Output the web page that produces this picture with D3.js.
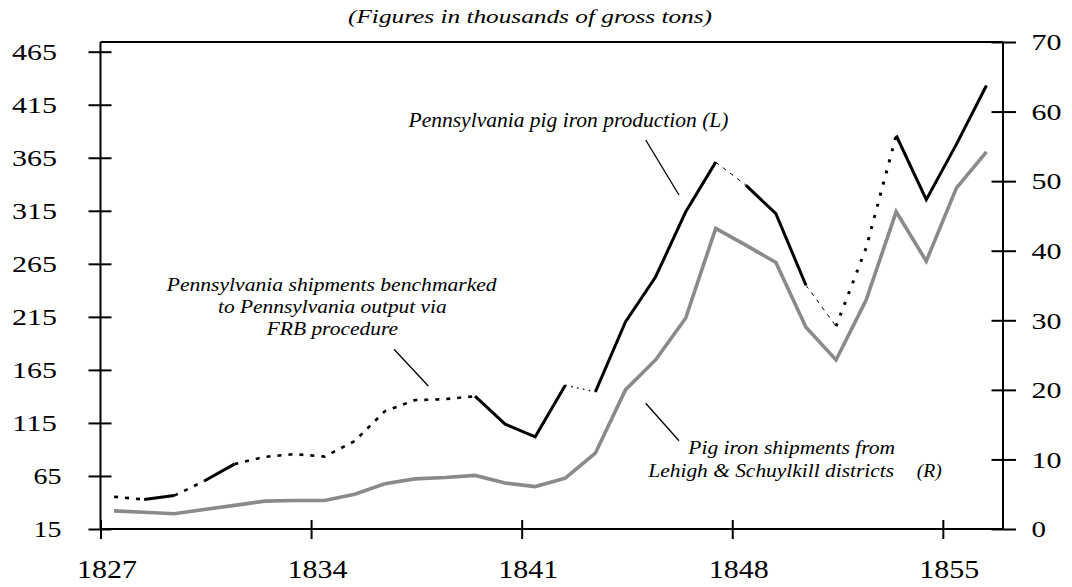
<!DOCTYPE html>
<html><head><meta charset="utf-8">
<script src="https://cdn.jsdelivr.net/npm/d3@7"></script>
<style>
html,body{margin:0;padding:0;background:#fff;}
svg{display:block;}
</style>
</head><body>
<svg id="chart" width="1072" height="587"></svg>
<script>
// ---- data ----
const years = [1827,1828,1829,1830,1831,1832,1833,1834,1835,1836,1837,1838,1839,1840,1841,
               1842,1843,1844,1845,1846,1847,1848,1849,1850,1851,1852,1853,1854,1855,1856];
// Pennsylvania pig iron production (L axis, thousands of gross tons)
const production = [45.4,42.8,46.5,60.2,76.2,83.0,85.6,83.3,97.9,126.0,136.5,137.4,140.2,113.9,101.9,
                    150.6,144.3,210.2,252.6,313.8,360.9,339.2,312.3,244.8,206.2,280.0,386.0,325.5,377.6,433.1];
// Pig iron shipments from Lehigh & Schuylkill districts (R axis)
const shipments = [2.6,2.4,2.2,2.8,3.4,4.0,4.1,4.1,5.0,6.5,7.2,7.4,7.7,6.6,6.1,
                   7.3,10.9,20.0,24.3,30.3,43.2,40.8,38.3,29.0,24.3,32.9,45.6,38.5,49.0,54.2];
// how each production interval (year -> next year) was obtained
const productionMethod = ["FRB","actual","FRB","actual","FRB","FRB","FRB","FRB","FRB","FRB","FRB","FRB",
                          "actual","actual","actual","linkDot","actual","actual","actual","actual",
                          "linkDash","actual","actual","linkDash","FRB2","FRB2","actual","actual","actual"];
const leftTicks = [15,65,115,165,215,265,315,365,415,465];
const rightTicks = [0,10,20,30,40,50,60,70];
const xTicks = [1827,1834,1841,1848,1855];

// ---- layout ----
const FONT = '"Liberation Serif","Times New Roman",serif';
const svg = d3.select("#chart");
const L = 100.5, R = 1003, T = 42, B = 529;
const x = d3.scaleLinear().domain([1827,1857]).range([L, R]);
const yL = d3.scaleLinear().domain([15,465]).range([B, 51.7]);
const yR = d3.scaleLinear().domain([0,70]).range([B, T]);
const xp = yr => x(yr + 0.45);

const styles = {
  actual:  {w:3,   dash:null},
  FRB:     {w:2.6, dash:"4,7"},
  FRB2:    {w:3,   dash:"3,8.5"},
  linkDot: {w:1.4, dash:"1.5,4.5"},
  linkDash:{w:1,   dash:"4,5"}
};

// frame
const frame = svg.append("g").attr("stroke","#000").attr("stroke-width",2);
frame.append("line").attr("x1",L).attr("x2",R).attr("y1",T).attr("y2",T);
frame.append("line").attr("x1",L).attr("x2",L).attr("y1",T).attr("y2",B);
frame.append("line").attr("x1",R).attr("x2",R).attr("y1",T).attr("y2",B);
frame.append("line").attr("x1",L).attr("x2",R).attr("y1",B).attr("y2",B);

// left axis
const gL = svg.append("g").attr("transform",`translate(${L},0)`)
  .call(d3.axisLeft(yL).tickValues(leftTicks).tickSizeOuter(0).tickFormat(d3.format("d")));
gL.select(".domain").remove();
gL.selectAll(".tick line").attr("x1",11).attr("x2",-12).attr("stroke","#000").attr("stroke-width",2);
gL.selectAll(".tick text")
  .style("font-family",FONT).style("font-size","23px")
  .attr("x", d => String(d).length===3 ? -43.5 : -39)
  .attr("dy","0.34em")
  .attr("textLength", d => String(d).length===3 ? 45 : 28)
  .attr("lengthAdjust","spacingAndGlyphs");

// right axis
const gR = svg.append("g").attr("transform",`translate(${R},0)`)
  .call(d3.axisRight(yR).tickValues(rightTicks).tickSizeOuter(0).tickFormat(d3.format("d")));
gR.select(".domain").remove();
gR.selectAll(".tick line").attr("x1",-11.5).attr("x2",13).attr("stroke","#000").attr("stroke-width",2);
gR.selectAll(".tick text")
  .style("font-family",FONT).style("font-size","23px")
  .attr("x",28.5).attr("dy","0.34em")
  .attr("textLength", d => String(d).length===2 ? 30 : 14.5)
  .attr("lengthAdjust","spacingAndGlyphs");

// bottom axis
const gB = svg.append("g").attr("transform",`translate(0,${B})`)
  .call(d3.axisBottom(x).tickValues(xTicks).tickSizeOuter(0).tickFormat(d3.format("d")));
gB.select(".domain").remove();
gB.selectAll(".tick line").attr("y1",-9).attr("y2",10).attr("stroke","#000").attr("stroke-width",2);
gB.selectAll(".tick text")
  .style("font-family",FONT).style("font-size","24.5px")
  .attr("y",48.5).attr("dy",0).attr("dx",6)
  .attr("textLength",60).attr("lengthAdjust","spacingAndGlyphs");

// shipments line
const lineR = d3.line().x((d,i)=>xp(years[i])).y(d=>yR(d));
svg.append("path").datum(shipments)
  .attr("d", lineR).attr("fill","none")
  .attr("stroke","#8a8a8a").attr("stroke-width",3.6).attr("stroke-linejoin","miter");

// production line in runs by method
const runs = [];
productionMethod.forEach((m,i)=>{
  const last = runs[runs.length-1];
  if (last && last.m===m) last.end = i+1; else runs.push({m, start:i, end:i+1});
});
const lineL = d3.line().x(d=>xp(d.yr)).y(d=>yL(d.v));
runs.forEach(r=>{
  const pts = d3.range(r.start, r.end+1).map(i=>({yr:years[i], v:production[i]}));
  const s = styles[r.m];
  svg.append("path").datum(pts).attr("d", lineL).attr("fill","none")
    .attr("stroke","#000").attr("stroke-width",s.w)
    .attr("stroke-dasharray", s.dash)
    .attr("stroke-linejoin","miter");
});

// texts
function itext(txt, xx, yy, len, size){
  return svg.append("text").attr("x",xx).attr("y",yy)
    .style("font-family",FONT).style("font-size",size+"px").style("font-style","italic")
    .attr("textLength",len).attr("lengthAdjust","spacingAndGlyphs").text(txt);
}
itext("(Figures in thousands of gross tons)", 348, 23, 364, 18.5);
itext("Pennsylvania pig iron production (L)", 408.5, 127, 320, 20);
itext("Pennsylvania shipments benchmarked", 166.7, 291, 330, 18.5);
itext("to Pennsylvania output via", 218, 313, 228.7, 18.5);
itext("FRB procedure", 266.7, 335, 131.3, 18.5);
itext("Pig iron shipments from", 688.3, 454, 206.7, 18.5);
itext("Lehigh & Schuylkill districts", 648.3, 477, 245.7, 18.5);
itext("(R)", 916.7, 477, 25, 18.5);

// leader lines
const leaders = svg.append("g").attr("stroke","#000").attr("stroke-width",1.3);
leaders.append("line").attr("x1",645.7).attr("y1",140).attr("x2",679).attr("y2",195);
leaders.append("line").attr("x1",394).attr("y1",349.3).attr("x2",428.3).attr("y2",386);
leaders.append("line").attr("x1",645.7).attr("y1",403.3).attr("x2",679).attr("y2",440.7);
</script>
</body></html>
